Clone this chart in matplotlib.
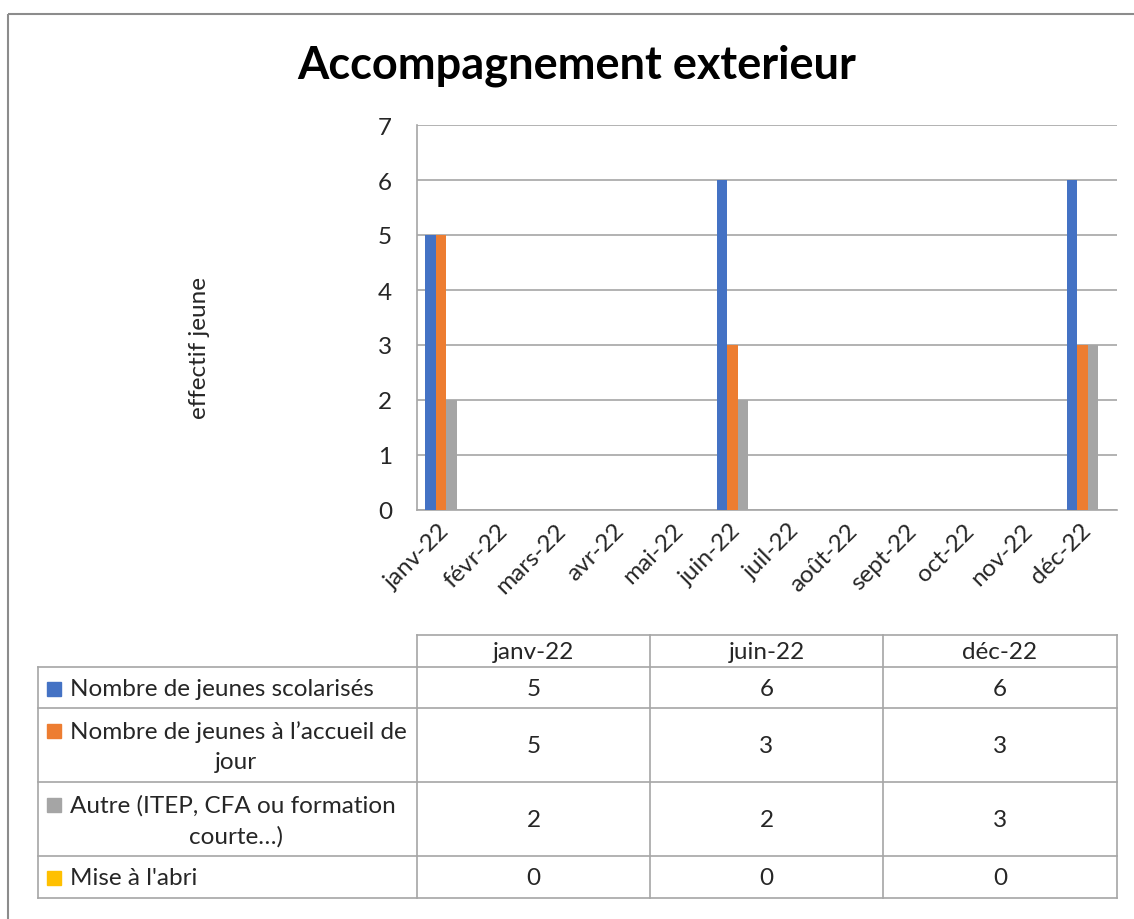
import numpy as np
import matplotlib.pyplot as plt
from matplotlib.patches import Rectangle

plt.rcParams['font.family'] = ['Lato', 'DejaVu Sans']

# chart data
months = ['janv-22', 'févr-22', 'mars-22', 'avr-22', 'mai-22', 'juin-22',
          'juil-22', 'août-22', 'sept-22', 'oct-22', 'nov-22', 'déc-22']
table_months = ['janv-22', 'juin-22', 'déc-22']
series_names = ['Nombre de jeunes scolarisés',
                'Nombre de jeunes à l’accueil de\njour',
                'Autre (ITEP, CFA ou formation\ncourte…)',
                "Mise à l'abri"]
scolarises = [5, 6, 6]
accueil_jour = [5, 3, 3]
autre = [2, 2, 3]
mise_abri = [0, 0, 0]
series_colors = ['#4472C4', '#ED7D31', '#A5A5A5', '#FFC000']

W, H = 1134, 920
FS = 17.5
TXT = '#262626'
fig = plt.figure(figsize=(W / 100, H / 100), dpi=100)

def px_box(x0, y0, x1, y1):
    return [x0 / W, 1 - y1 / H, (x1 - x0) / W, (y1 - y0) / H]

ax = fig.add_axes(px_box(417, 126, 1117, 511))

all_series = [scolarises, accueil_jour, autre, mise_abri]
pos = np.array([months.index(m) for m in table_months])
bw = 0.18
for i, (vals, col) in enumerate(zip(all_series, series_colors)):
    ax.bar(pos + (i - 1.5) * bw, vals, width=bw, color=col, zorder=3)

ax.set_xlim(-0.5, len(months) - 0.5)
ax.set_ylim(0, 7)
ax.set_yticks(range(0, 8))
ax.set_xticks(range(len(months)))
ax.set_xticklabels(months, rotation=45, ha='right', va='center',
                   rotation_mode='anchor', fontsize=FS, color=TXT)
ax.tick_params(axis='x', length=0, pad=12)
ax.tick_params(axis='y', length=0, pad=18, labelsize=FS, labelcolor=TXT)
ax.grid(axis='y', color='#A6A6A6', linewidth=1.2, zorder=0)
for s in ['top', 'right']:
    ax.spines[s].set_visible(False)
for s in ['left', 'bottom']:
    ax.spines[s].set_color('#A6A6A6')
    ax.spines[s].set_linewidth(1.2)

fig.text(200 / W, 1 - 348 / H, 'effectif jeune', rotation=90,
         ha='center', va='center', fontsize=FS, color=TXT)
fig.text(577 / W, 1 - 66 / H, 'Accompagnement exterieur', ha='center',
         va='center', fontsize=32.5, fontweight='bold', color='black')

# data table under the chart, drawn in pixel space
tab = fig.add_axes([0, 0, 1, 1], zorder=-1)
tab.set_xlim(0, W)
tab.set_ylim(H, 0)
tab.axis('off')
tab.add_patch(Rectangle((8, 15), W, H, fill=False, edgecolor='#8C8C8C', linewidth=1.5))

col_x = [38, 417, 650, 883, 1117]
row_y = [636, 668, 709, 783, 857, 899]
lc = '#A6A6A6'
tab.plot([col_x[1], col_x[-1]], [row_y[0], row_y[0]], color=lc, lw=1.2)
for y in row_y[1:]:
    tab.plot([col_x[0], col_x[-1]], [y, y], color=lc, lw=1.2)
for j, x in enumerate(col_x):
    top = row_y[1] if j == 0 else row_y[0]
    tab.plot([x, x], [top, row_y[-1]], color=lc, lw=1.2)

for j, m in enumerate(table_months):
    tab.text((col_x[j + 1] + col_x[j + 2]) / 2, (row_y[0] + row_y[1]) / 2 + 1, m,
             ha='center', va='center', fontsize=FS, color=TXT)

for i, (name, vals, col) in enumerate(zip(series_names, all_series, series_colors)):
    y0, y1 = row_y[i + 1], row_y[i + 2]
    lines = name.split('\n')
    yc = (y0 + y1) / 2
    if len(lines) == 1:
        ys = [yc + 1]
    else:
        ys = [yc - 14, yc + 17]
    tab.add_patch(Rectangle((47, ys[0] - 7), 14, 14, color=col))
    tab.text(70, ys[0], lines[0], ha='left', va='center', fontsize=FS, color=TXT)
    if len(lines) > 1:
        tab.text(236, ys[1], lines[1], ha='center', va='center', fontsize=FS, color=TXT)
    for j, v in enumerate(vals):
        tab.text((col_x[j + 1] + col_x[j + 2]) / 2, yc + 1, str(v),
                 ha='center', va='center', fontsize=FS, color=TXT)

fig.savefig('out.png', dpi=100, facecolor='white')
